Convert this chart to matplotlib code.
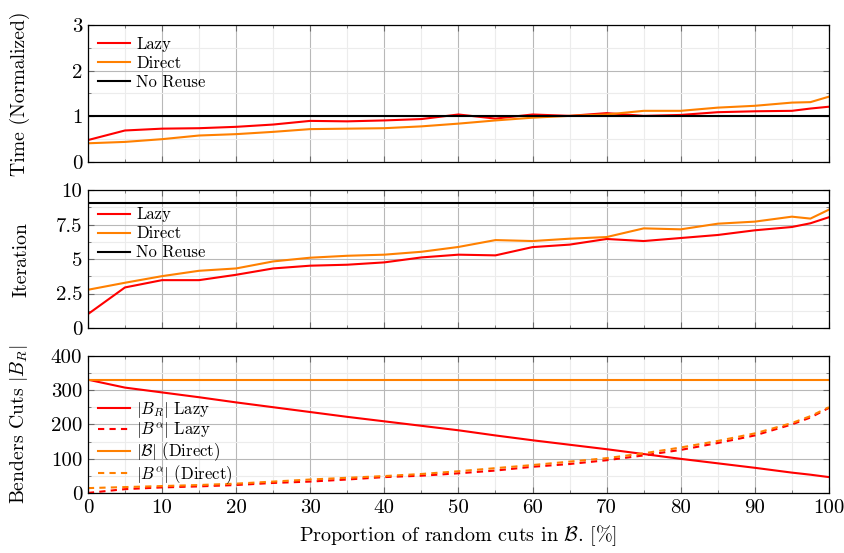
import matplotlib.pyplot as plt
import numpy as np
from matplotlib.ticker import MultipleLocator

plt.rcParams["font.family"] = "serif"
plt.rcParams["font.serif"] = ["cmr10", "DejaVu Serif"]
plt.rcParams["mathtext.fontset"] = "cm"
plt.rcParams["axes.formatter.use_mathtext"] = True
plt.rcParams["font.size"] = 14

# 横轴：随机割的比例
x = [0, 5, 10, 15, 20, 25, 30, 35, 40, 45, 50, 55, 60, 65, 70, 75, 80, 85, 90, 95, 97.5, 100]

# 时间（归一化）
time_lazy = [0.48, 0.69, 0.73, 0.74, 0.77, 0.82, 0.90, 0.89, 0.91, 0.94, 1.04, 0.95, 1.04, 1.01, 1.07, 1.01, 1.03, 1.09, 1.11, 1.12, 1.17, 1.21]
time_direct = [0.41, 0.44, 0.50, 0.58, 0.61, 0.66, 0.72, 0.73, 0.74, 0.78, 0.84, 0.91, 0.97, 1.01, 1.04, 1.12, 1.12, 1.19, 1.23, 1.30, 1.31, 1.43]
time_noreuse = 1.0

# 迭代次数
iter_lazy = [1.0, 2.94, 3.47, 3.47, 3.86, 4.32, 4.52, 4.59, 4.76, 5.12, 5.32, 5.27, 5.87, 6.05, 6.46, 6.31, 6.53, 6.75, 7.09, 7.33, 7.6, 8.04]
iter_direct = [2.77, 3.28, 3.76, 4.15, 4.32, 4.83, 5.10, 5.24, 5.32, 5.53, 5.88, 6.38, 6.31, 6.48, 6.60, 7.23, 7.16, 7.57, 7.72, 8.08, 7.94, 8.59]
iter_noreuse = 9.1

# Benders割数量
br_lazy = [330, 307, 293, 279, 264, 250, 236, 222, 209, 196, 183, 168, 154, 141, 128, 114, 100, 87, 74, 60, 54, 47]
ba_lazy = [1, 12, 17, 20, 24, 30, 34, 40, 47, 51, 58, 66, 77, 85, 96, 110, 126, 146, 168, 200, 220, 248]
b_direct = 330
ba_direct = [15, 18, 21, 24, 28, 34, 40, 45, 50, 56, 64, 73, 82, 92, 102, 116, 133, 152, 174, 204, 224, 250]

red = "#ff0000"
orange = "#ff8000"
lw = 1.5

fig = plt.figure(figsize=(8.45, 5.53), dpi=100)
left, width = 0.104, 0.877
ax1 = fig.add_axes([left, 0.707, width, 0.248])
ax2 = fig.add_axes([left, 0.407, width, 0.249])
ax3 = fig.add_axes([left, 0.108, width, 0.249])

def style(ax, ymaj, ymin, ylim):
    ax.set_xlim(0, 100)
    ax.set_ylim(*ylim)
    ax.xaxis.set_major_locator(MultipleLocator(10))
    ax.xaxis.set_minor_locator(MultipleLocator(5))
    ax.yaxis.set_major_locator(MultipleLocator(ymaj))
    ax.yaxis.set_minor_locator(MultipleLocator(ymin))
    ax.grid(which="major", color="#b8b8b8", linewidth=0.8)
    ax.grid(which="minor", color="#ececec", linewidth=0.8)
    ax.set_axisbelow(True)
    ax.tick_params(which="both", direction="in", top=True, right=True, color="#6a6a6a")
    ax.tick_params(which="major", length=4, width=0.8, pad=4, labelsize=15)
    ax.tick_params(which="minor", length=2.5, width=0.6)
    for s in ax.spines.values():
        s.set_linewidth(0.9)
    ax.yaxis.set_label_coords(-0.078, 0.5)

leg_kw = dict(frameon=False, fontsize=12, handlelength=1.9, labelspacing=0.22,
              borderaxespad=0.3, handletextpad=0.4, borderpad=0.3)

# 子图1：时间
style(ax1, 1, 0.5, (0, 3))
ax1.plot(x, time_lazy, color=red, lw=lw, label="Lazy")
ax1.plot(x, time_direct, color=orange, lw=lw, label="Direct")
ax1.axhline(time_noreuse, color="black", lw=lw, label="No Reuse")
ax1.set_ylabel("Time (Normalized)", fontsize=14.2)
ax1.set_yticks([0, 1, 2, 3])
ax1.set_yticklabels(["0", "1", "2", "3"])
ax1.tick_params(labelbottom=False)
ax1.legend(loc="upper left", bbox_to_anchor=(0, 0.99), **leg_kw)

# 子图2：迭代
style(ax2, 2.5, 1.25, (0, 10))
ax2.plot(x, iter_lazy, color=red, lw=lw, label="Lazy")
ax2.plot(x, iter_direct, color=orange, lw=lw, label="Direct")
ax2.axhline(iter_noreuse, color="black", lw=lw, label="No Reuse")
ax2.set_ylabel("Iteration", fontsize=14.2)
ax2.set_yticks([0, 2.5, 5, 7.5, 10])
ax2.set_yticklabels(["0", "2.5", "5", "7.5", "10"])
ax2.tick_params(labelbottom=False)
ax2.legend(loc="upper left", bbox_to_anchor=(0, 0.95), **leg_kw)

# 子图3：割的数量
style(ax3, 100, 50, (0, 400))
ax3.plot(x, br_lazy, color=red, lw=lw, label=r"$|B_R|$ Lazy")
ax3.plot(x, ba_lazy, color=red, lw=lw, ls=(0, (3, 2.5)), label=r"$|B^\alpha|$ Lazy")
ax3.axhline(b_direct, color=orange, lw=lw, label=r"$|\mathcal{B}|$ (Direct)")
ax3.plot(x, ba_direct, color=orange, lw=lw, ls=(0, (3, 2.5)), label=r"$|B^\alpha|$ (Direct)")
ax3.set_ylabel(r"Benders Cuts $|B_R|$", fontsize=14.2)
ax3.set_yticks([0, 100, 200, 300, 400])
ax3.set_yticklabels(["0", "100", "200", "300", "400"])
ax3.set_xticks(np.arange(0, 101, 10))
ax3.set_xticklabels([str(v) for v in range(0, 101, 10)])
ax3.set_xlabel(r"Proportion of random cuts in $\mathcal{B}$. [%]", labelpad=5, fontsize=14.5)
bottom_kw = dict(leg_kw, labelspacing=0.0)
ax3.legend(loc="lower left", bbox_to_anchor=(0, -0.02), **bottom_kw)

plt.savefig("out.png", dpi=100)
